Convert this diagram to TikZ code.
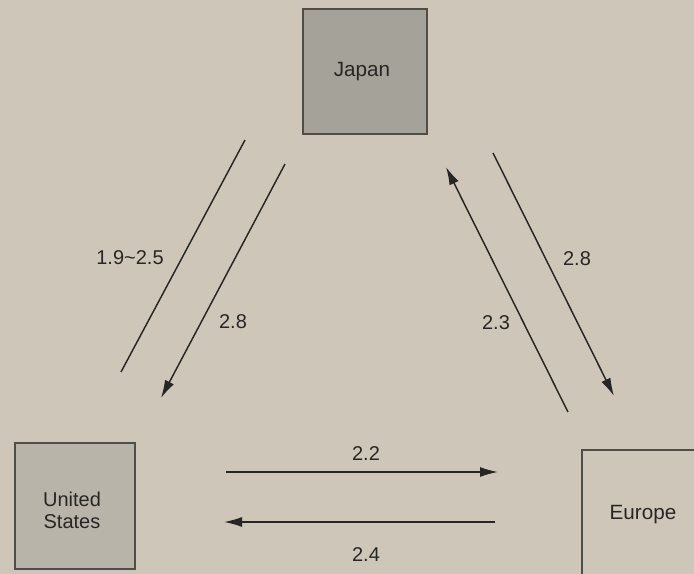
\documentclass[tikz,border=0pt]{standalone}
\usepackage{fontspec}
\setmainfont{Liberation Sans}
\usetikzlibrary{arrows.meta}
\definecolor{paper}{RGB}{206,199,185}
\definecolor{jpfill}{RGB}{165,162,154}
\definecolor{usfill}{RGB}{184,180,170}
\definecolor{ink}{RGB}{40,38,36}
\definecolor{edge}{RGB}{80,77,72}
\tikzset{
  box/.style={draw=edge, line width=1.6pt, inner sep=0pt, align=center, text=ink,
    font=\fontsize{15}{16.5}\selectfont},
  flow/.style={draw=ink, line width=1.1pt},
  flowarrow/.style={flow, -{Latex[length=13.5pt,width=7.5pt]}},
  lbl/.style={text=ink, font=\fontsize{15}{17}\selectfont, inner sep=1pt}
}
\begin{document}
\begin{tikzpicture}[x=0.75pt,y=-0.75pt]
\fill[paper] (0,0) rectangle (694,574);
\useasboundingbox (0,0) rectangle (694,574);
\clip (0,0) rectangle (694,574);

% boxes
\node[box, fill=jpfill, minimum width=93pt, minimum height=93.75pt] (japan) at (365,71.5) {};
\node[text=ink, font=\fontsize{15.5}{17}\selectfont] (japant) at (362,72) {Japan};
\node[box, fill=usfill, minimum width=90pt, minimum height=94.5pt] (us) at (75,506) {};
\node[text=ink, font=\fontsize{15}{16.5}\selectfont, align=center] (ust) at (72,510) {United\\States};
\node[box, fill=paper, minimum width=97.5pt, minimum height=101pt] (europe) at (647,517) {};
\node[text=ink, font=\fontsize{15.5}{17}\selectfont] (europet) at (643,515) {Europe};

% connector end points
\coordinate (a1) at (245,140);
\coordinate (a2) at (121,372);
\coordinate (b1) at (285,164);
\coordinate (b2) at (161,398);
\coordinate (c1) at (568,412);
\coordinate (c2) at (446,167);
\coordinate (d1) at (493,153);
\coordinate (d2) at (614,396);
\coordinate (e1) at (226,472);
\coordinate (e2) at (498,472);
\coordinate (f1) at (495,522);
\coordinate (f2) at (224,522);

\draw[flow] (a1) -- (a2);
\draw[flowarrow] (b1) -- (b2);
\draw[flowarrow] (c1) -- (c2);
\draw[flowarrow] (d1) -- (d2);
\draw[flowarrow] (e1) -- (e2);
\draw[flowarrow] (f1) -- (f2);

% labels
\node[lbl] (l1) at (130,258) {1.9\textasciitilde2.5};
\node[lbl] (l2) at (233,322) {2.8};
\node[lbl] (l3) at (577,259) {2.8};
\node[lbl] (l4) at (496,323) {2.3};
\node[lbl] (l5) at (366,454) {2.2};
\node[lbl] (l6) at (366,555) {2.4};
\end{tikzpicture}
\end{document}
